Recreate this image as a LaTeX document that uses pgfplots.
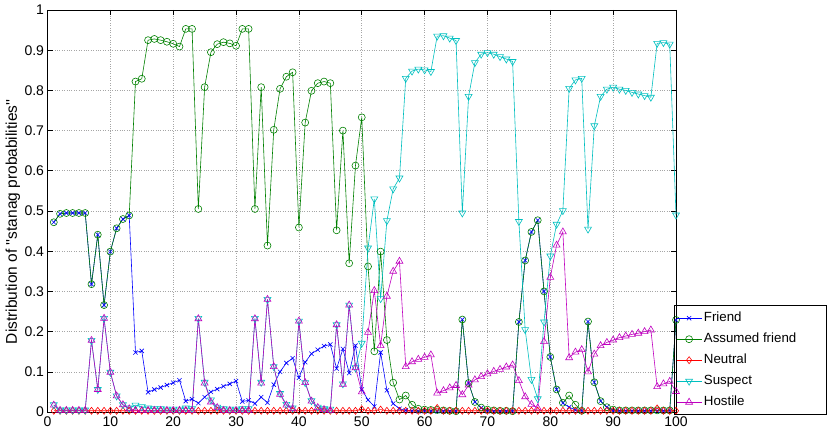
\documentclass[border=0pt]{standalone}
\usepackage{fontspec}
\setmainfont{Liberation Sans}
\usepackage{pgfplots}
\pgfplotsset{compat=1.18}
\usepackage{pgfplotstable}
\definecolor{mfri}{rgb}{0,0,1}
\definecolor{mass}{rgb}{0,0.5,0}
\definecolor{mneu}{rgb}{1,0,0}
\definecolor{msus}{rgb}{0,0.75,0.75}
\definecolor{mhos}{rgb}{0.75,0,0.75}
\pgfplotstableread{
x F A N S H
1 0.472 0.472 0.003 0.018 0.017
2 0.493 0.493 0.003 0.005 0.004
3 0.495 0.495 0.003 0.005 0.004
4 0.495 0.495 0.003 0.005 0.004
5 0.495 0.495 0.003 0.005 0.004
6 0.495 0.495 0.003 0.005 0.004
7 0.318 0.318 0.003 0.178 0.178
8 0.441 0.441 0.003 0.056 0.056
9 0.266 0.266 0.003 0.233 0.233
10 0.399 0.399 0.003 0.099 0.099
11 0.457 0.457 0.003 0.040 0.040
12 0.480 0.480 0.003 0.018 0.018
13 0.489 0.489 0.003 0.010 0.008
14 0.148 0.822 0.003 0.017 0.004
15 0.152 0.829 0.003 0.013 0.004
16 0.049 0.925 0.003 0.010 0.004
17 0.056 0.928 0.003 0.008 0.004
18 0.061 0.925 0.003 0.008 0.004
19 0.067 0.921 0.003 0.007 0.004
20 0.073 0.916 0.003 0.007 0.004
21 0.079 0.909 0.003 0.007 0.004
22 0.027 0.953 0.003 0.010 0.004
23 0.032 0.953 0.003 0.008 0.004
24 0.022 0.505 0.003 0.233 0.232
25 0.037 0.808 0.003 0.074 0.072
26 0.050 0.895 0.003 0.030 0.025
27 0.057 0.915 0.003 0.012 0.011
28 0.064 0.920 0.003 0.008 0.004
29 0.070 0.917 0.003 0.007 0.004
30 0.077 0.911 0.003 0.007 0.004
31 0.026 0.953 0.003 0.008 0.004
32 0.029 0.953 0.003 0.008 0.004
33 0.021 0.505 0.003 0.233 0.232
34 0.037 0.808 0.003 0.074 0.072
35 0.023 0.414 0.003 0.280 0.280
36 0.068 0.702 0.003 0.113 0.113
37 0.100 0.804 0.003 0.046 0.044
38 0.122 0.834 0.003 0.019 0.017
39 0.134 0.845 0.003 0.010 0.008
40 0.085 0.459 0.003 0.226 0.226
41 0.124 0.720 0.003 0.073 0.073
42 0.145 0.799 0.003 0.028 0.027
43 0.155 0.818 0.003 0.012 0.011
44 0.164 0.822 0.003 0.008 0.006
45 0.168 0.818 0.003 0.007 0.004
46 0.108 0.452 0.003 0.217 0.217
47 0.157 0.700 0.003 0.070 0.069
48 0.097 0.370 0.003 0.266 0.266
49 0.165 0.613 0.003 0.110 0.110
50 0.056 0.733 0.007 0.171 0.050
51 0.030 0.362 0.003 0.408 0.198
52 0.014 0.151 0.003 0.530 0.302
53 0.148 0.399 0.006 0.282 0.165
54 0.054 0.179 0.003 0.476 0.288
55 0.021 0.073 0.003 0.555 0.350
56 0.008 0.031 0.003 0.582 0.375
57 0.004 0.041 0.003 0.830 0.113
58 0.003 0.018 0.003 0.848 0.125
59 0.002 0.008 0.003 0.853 0.131
60 0.002 0.006 0.003 0.851 0.136
61 0.002 0.005 0.003 0.847 0.142
62 0.002 0.005 0.010 0.935 0.047
63 0.002 0.004 0.003 0.936 0.053
64 0.002 0.003 0.003 0.930 0.060
65 0.002 0.002 0.003 0.924 0.066
66 0.230 0.230 0.003 0.495 0.043
67 0.072 0.072 0.003 0.785 0.067
68 0.025 0.025 0.003 0.869 0.080
69 0.010 0.011 0.003 0.890 0.088
70 0.002 0.006 0.003 0.894 0.095
71 0.002 0.004 0.003 0.890 0.101
72 0.002 0.003 0.003 0.884 0.106
73 0.002 0.003 0.003 0.878 0.112
74 0.002 0.002 0.003 0.872 0.117
75 0.224 0.224 0.003 0.474 0.078
76 0.377 0.377 0.003 0.205 0.038
77 0.448 0.448 0.003 0.081 0.019
78 0.477 0.477 0.003 0.033 0.010
79 0.300 0.300 0.003 0.224 0.175
80 0.137 0.137 0.003 0.388 0.335
81 0.056 0.056 0.003 0.467 0.415
82 0.022 0.023 0.003 0.501 0.448
83 0.012 0.041 0.003 0.805 0.135
84 0.005 0.018 0.003 0.826 0.149
85 0.003 0.003 0.003 0.830 0.155
86 0.225 0.225 0.003 0.455 0.100
87 0.074 0.074 0.003 0.712 0.144
88 0.027 0.027 0.003 0.785 0.165
89 0.012 0.012 0.003 0.803 0.173
90 0.003 0.006 0.003 0.808 0.179
91 0.003 0.004 0.003 0.803 0.185
92 0.003 0.004 0.003 0.800 0.189
93 0.003 0.004 0.003 0.795 0.193
94 0.003 0.004 0.003 0.791 0.196
95 0.003 0.004 0.003 0.787 0.200
96 0.003 0.004 0.003 0.783 0.204
97 0.003 0.004 0.009 0.917 0.063
98 0.003 0.004 0.003 0.919 0.070
99 0.003 0.004 0.003 0.915 0.076
100 0.229 0.229 0.003 0.490 0.051
}\data
\newcommand{\legtxt}[1]{\makebox[118pt][l]{#1}}
\begin{document}
\fontsize{13}{15.6}\selectfont
\begin{tikzpicture}
\begin{axis}[
  at={(0,0)}, anchor=south west,
  scale only axis, width=628.5pt, height=402pt,
  xmin=0, xmax=100, ymin=0, ymax=1,
  xtick={0,10,...,100},
  ytick={0,0.1,...,1},
  yticklabels={0,0.1,0.2,0.3,0.4,0.5,0.6,0.7,0.8,0.9,1},
  tick align=inside, major tick length=5pt,
  xtick pos=both, ytick pos=both,
  axis line style={line width=0.8pt},
  tick style={line width=0.6pt, black},
  grid=major,
  major grid style={dotted, line width=0.6pt, gray!70},
  /pgf/number format/assume math mode=true,
  tick label style={font=\fontsize{14}{16}\selectfont},
  yticklabel style={xshift=1pt},
  ylabel={Distribution of \textquotesingle\textquotesingle stanag probabilities\textquotesingle\textquotesingle},
  ylabel style={at={(ticklabel cs:0.473)}, font=\fontsize{15.5}{18}\selectfont, inner sep=0pt},
  every axis plot/.append style={line width=0.6pt},
  legend cell align=left,
  legend style={at={(rel axis cs:1,0)}, anchor=south west, xshift=-2pt, yshift=-3pt,
    font=\fontsize{13.3}{16}\selectfont, draw=black, line width=0.6pt, fill=none,
    inner xsep=2pt, inner ysep=2pt,
    nodes={text height=10pt, text depth=3pt, inner ysep=4pt, inner xsep=2pt}},
  legend image code/.code={\draw[mark repeat=2,mark phase=2] plot coordinates {(0pt,0pt)(12.5pt,0pt)(25pt,0pt)};},
]
\addplot[color=mfri, mark=x, mark size=3pt, mark options={solid}] table[x=x,y=F]{\data};
\addlegendentry{\legtxt{Friend}}
\addplot[color=mass, mark=o, mark size=3.5pt, mark options={solid}] table[x=x,y=A]{\data};
\addlegendentry{\legtxt{Assumed friend}}
\addplot[color=mneu, mark=diamond, mark size=3.5pt, mark options={solid}] table[x=x,y=N]{\data};
\addlegendentry{\legtxt{Neutral}}
\addplot[color=msus, mark=triangle, mark size=4pt, mark options={solid, rotate=180}] table[x=x,y=S]{\data};
\addlegendentry{\legtxt{Suspect}}
\addplot[color=mhos, mark=triangle, mark size=4pt, mark options={solid}] table[x=x,y=H]{\data};
\addlegendentry{\legtxt{Hostile}}
\end{axis}
\pgfresetboundingbox
\path[use as bounding box] (-47.5pt,-24pt) rectangle (786.5pt,412pt);
\end{tikzpicture}
\end{document}
